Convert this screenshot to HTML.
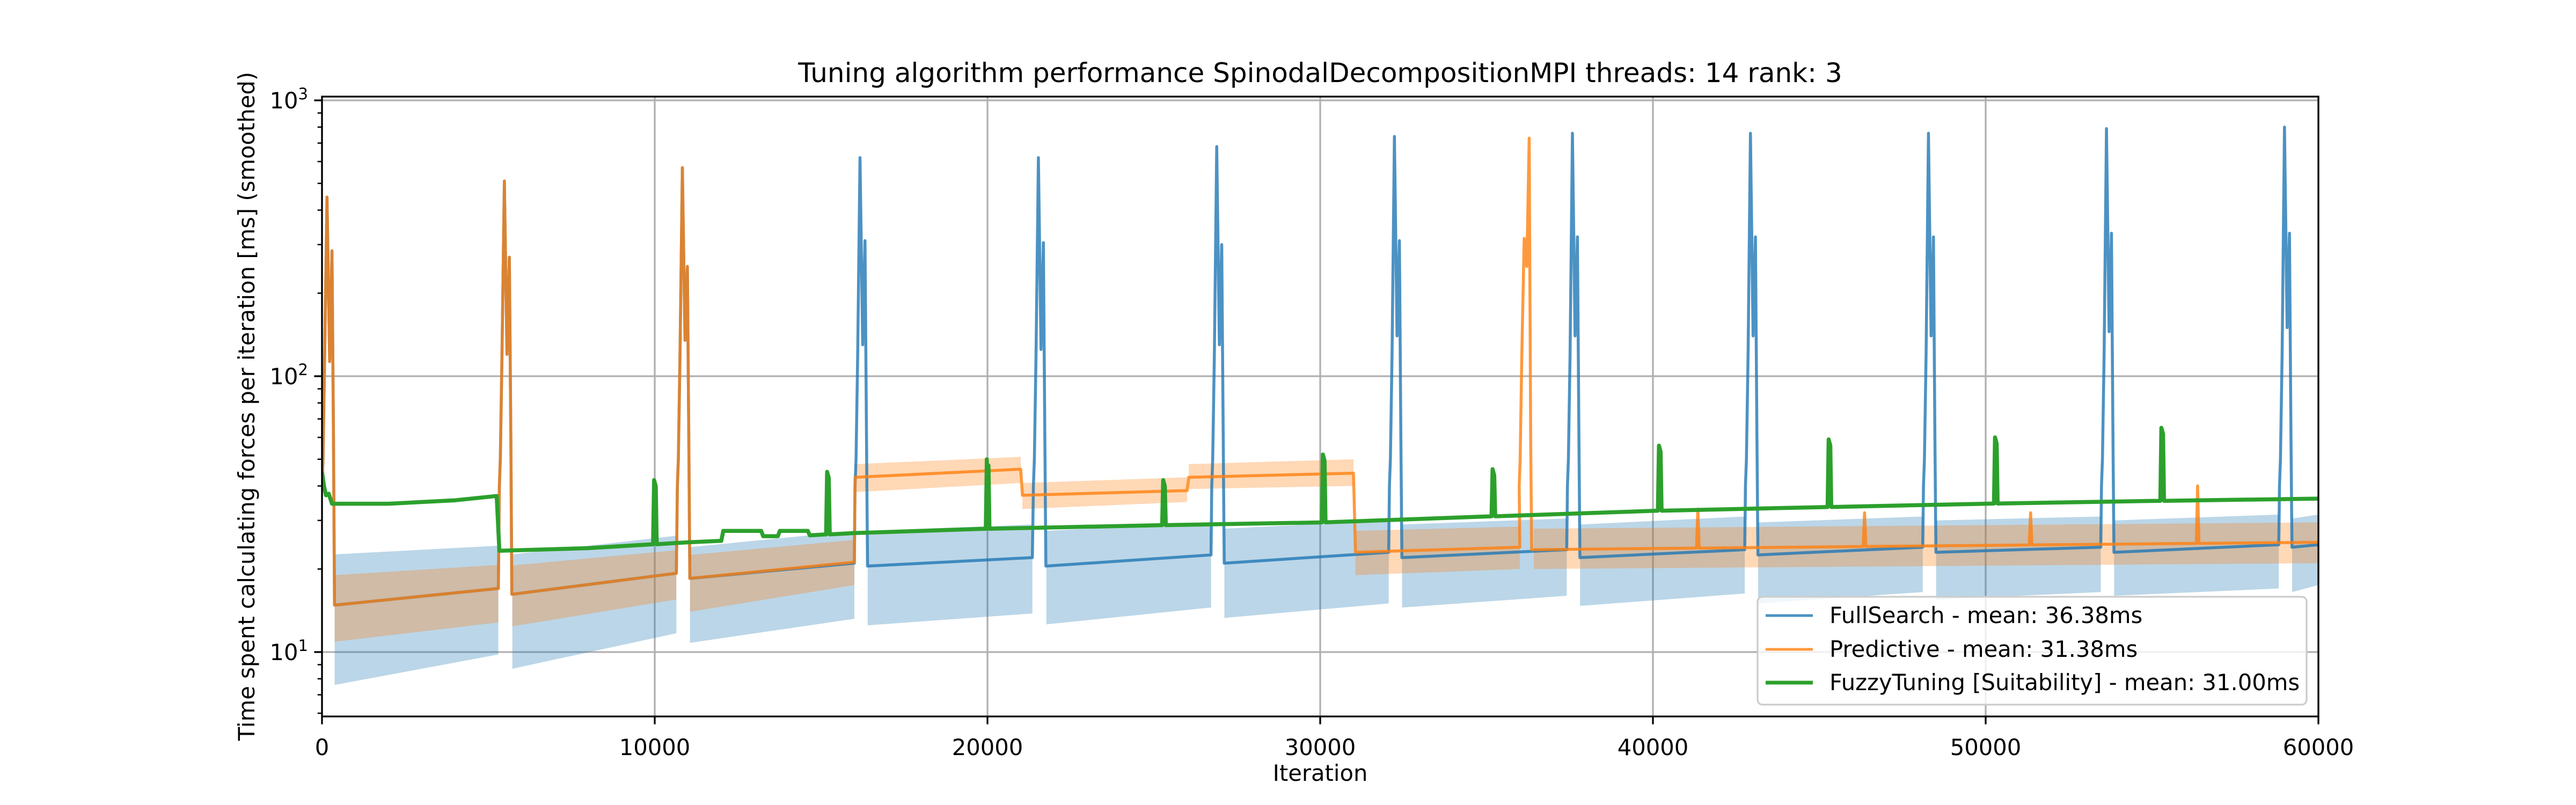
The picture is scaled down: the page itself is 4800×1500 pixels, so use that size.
<!DOCTYPE html>
<html><head><meta charset="utf-8">
<style>
html,body{margin:0;padding:0;background:#fff;}
svg{display:block;font-family:"DejaVu Sans","Liberation Sans",sans-serif;}
</style></head>
<body>
<svg id="chart" width="4800" height="1500" viewBox="0 0 4800 1500" xmlns="http://www.w3.org/2000/svg">
<rect width="4800" height="1500" fill="#fff"/>
<defs><clipPath id="plotclip"><rect x="600" y="180" width="3720" height="1155"/></clipPath></defs>
<g id="grid"></g>
<g id="series" clip-path="url(#plotclip)"></g>
<g id="axes"></g>
<text x="2460" y="153" font-size="50" text-anchor="middle">Tuning algorithm performance SpinodalDecompositionMPI threads: 14 rank: 3</text>
<text x="2460" y="1455" font-size="41.7" text-anchor="middle">Iteration</text>
<text transform="translate(474,757) rotate(-90)" font-size="41.7" text-anchor="middle">Time spent calculating forces per iteration [ms] (smoothed)</text>
<g>
<rect x="3275" y="1112" width="1023" height="201" rx="9" fill="#fff" fill-opacity="0.8" stroke="#cccccc" stroke-width="3.3"/>
<line x1="3290" y1="1147" x2="3378" y2="1147" stroke="#1f77b4" stroke-opacity="0.8" stroke-width="5"/>
<text x="3409" y="1161" font-size="41.7">FullSearch - mean: 36.38ms</text>
<line x1="3290" y1="1210" x2="3378" y2="1210" stroke="#ff7f0e" stroke-opacity="0.8" stroke-width="5"/>
<text x="3409" y="1224" font-size="41.7">Predictive - mean: 31.38ms</text>
<line x1="3290" y1="1272" x2="3378" y2="1272" stroke="#2ca02c" stroke-width="7"/>
<text x="3409" y="1286" font-size="41.7">FuzzyTuning [Suitability] - mean: 31.00ms</text>
</g>
</svg>
<script>
// ---- axis ticks ----
const xTicks = [0, 10000, 20000, 30000, 40000, 50000, 60000];
const yTickExps = [1, 2, 3];

// ---- FullSearch (blue) segments between tuning phases ----
const fsSegStart = [380, 5720, 11060, 16400, 21770, 27120, 32460, 37810, 43160, 48510, 53860, 59210];
const fsSegEnd   = [5300, 10650, 16000, 21350, 26720, 32060, 37410, 42760, 48110, 53460, 58810, 60000];
const fsMean0 = [14.8, 16.2, 18.5, 20.5, 20.5, 21.0, 22.0, 22.0, 22.5, 23.0, 23.0, 24.0];
const fsMean1 = [17.0, 19.3, 21.0, 22.0, 22.5, 23.0, 23.5, 23.5, 24.0, 24.0, 24.5, 24.5];
const fsLow0  = [7.6, 8.7, 10.8, 12.5, 12.6, 13.3, 14.5, 14.7, 15.0, 15.5, 16.0, 16.5];
const fsLow1  = [9.8, 11.7, 13.2, 13.8, 14.5, 15.0, 16.0, 16.3, 16.5, 16.5, 17.0, 17.5];
const fsHigh0 = [22.6, 22.6, 24.0, 27.5, 27.5, 28.0, 29.0, 29.0, 29.5, 30.0, 30.0, 30.5];
const fsHigh1 = [24.3, 26.4, 27.5, 29.0, 29.5, 30.0, 30.5, 31.0, 31.0, 31.0, 31.5, 31.5];
// tuning spikes (start iteration, first peak, dip, second peak)
const fsSpikeAt = [0, 5330, 10680, 16020, 21380, 26740, 32080, 37430, 42780, 48130, 53480, 58830];
const fsPeak1 = [446, 510, 570, 620, 620, 680, 740, 760, 760, 760, 790, 800];
const fsDip   = [113, 120, 135, 130, 125, 130, 140, 140, 140, 140, 145, 150];
const fsPeak2 = [285, 270, 250, 310, 305, 300, 310, 320, 320, 320, 330, 330];

// ---- Predictive (orange) ----
const prSegStart = [380, 5720, 11060, 16020, 21050, 26050, 31060, 36420];
const prSegEnd   = [5300, 10650, 16000, 21000, 26000, 31000, 36000, 60000];
const prMean0 = [14.8, 16.2, 18.5, 43.0, 37.0, 43.0, 23.0, 23.5];
const prMean1 = [17.0, 19.3, 21.2, 46.0, 38.5, 44.5, 24.0, 25.0];
const prLow0  = [10.9, 12.4, 14.0, 38.0, 33.0, 39.0, 19.0, 20.0];
const prLow1  = [12.8, 15.5, 17.5, 41.0, 35.0, 40.0, 20.0, 21.0];
const prHigh0 = [19.0, 20.6, 22.5, 48.0, 41.0, 48.0, 27.5, 28.0];
const prHigh1 = [20.7, 23.4, 25.5, 51.0, 43.0, 50.0, 28.5, 29.5];
const prSpikeAt = [0, 5330, 10680, 35980];
const prPeak1 = [446, 510, 570, 316];
const prDip   = [113, 120, 135, 250];
const prPeak2 = [285, 270, 250, 730];
const prBlipAt  = [41350, 46360, 51350, 56370];
const prBlipVal = [33, 32, 32, 40];

// ---- FuzzyTuning (green) ----
const ftIter = [0, 60, 120, 200, 300, 2000, 4000, 5250, 5330, 8000, 11000, 12000, 12060, 13200, 13260, 13700, 13760, 14600, 14660, 16000, 20000, 25000, 30000, 35000, 40000, 45000, 50000, 55000, 60000];
const ftVal  = [45, 40, 37, 37.5, 34.5, 34.5, 35.5, 36.8, 23.3, 23.8, 25.0, 25.3, 27.5, 27.5, 26.3, 26.3, 27.5, 27.5, 26.5, 27.0, 28.0, 28.8, 29.5, 31.0, 32.5, 33.5, 34.5, 35.3, 36.0];
const ftSpikeAt  = [10000, 15200, 20000, 25300, 30100, 35200, 40200, 45300, 50300, 55300];
const ftSpikeVal = [42, 45, 50, 42, 52, 46, 56, 59, 60, 65];

// ---- scales ----
const X0 = 600, X1 = 4320, Y10 = 1215, DEC = 514, YTOP = 180, YBOT = 1335;
function xs(i) { return X0 + (i / 60000) * (X1 - X0); }
function ys(v) { return Y10 - (Math.log10(v) - 1) * DEC; }
const NS = 'http://www.w3.org/2000/svg';
function mk(tag, attrs, parent) {
  const el = document.createElementNS(NS, tag);
  for (const k in attrs) el.setAttribute(k, attrs[k]);
  parent.appendChild(el);
  return el;
}
const grid = document.getElementById('grid');
const axes = document.getElementById('axes');
const series = document.getElementById('series');

xTicks.forEach(t => {
  const l = mk('line', {x1: xs(t), x2: xs(t), y1: YTOP, y2: YBOT, stroke: '#b0b0b0', 'stroke-width': 3.3}, grid);
  
  
});
yTickExps.forEach(e => {
  const l = mk('line', {x1: X0, x2: X1, y1: ys(Math.pow(10, e)), y2: ys(Math.pow(10, e)), stroke: '#b0b0b0', 'stroke-width': 3.3}, grid);
  
  
});

function spikePts(s, p1, dip, p2, endVal) {
  return [[s, 40], [s + 30, 50], [s + 80, 120], [s + 150, p1], [s + 230, dip], [s + 300, p2], [s + 345, 60], [s + 375, endVal]];
}
function pathFrom(pts) {
  return pts.map((p, k) => (k ? 'L' : 'M') + xs(p[0]).toFixed(1) + ',' + ys(p[1]).toFixed(1)).join('');
}
function bandPath(s, e, l0, l1, h0, h1) {
  return 'M' + xs(s) + ',' + ys(h0) + 'L' + xs(e) + ',' + ys(h1) + 'L' + xs(e) + ',' + ys(l1) + 'L' + xs(s) + ',' + ys(l0) + 'Z';
}

for (let k = 0; k < fsSegStart.length; k++) {
  const b = mk('path', {d: bandPath(fsSegStart[k], fsSegEnd[k], fsLow0[k], fsLow1[k], fsHigh0[k], fsHigh1[k]), fill: '#1f77b4', 'fill-opacity': 0.3}, series);
  
  
}
for (let k = 0; k < prSegStart.length; k++) {
  const b = mk('path', {d: bandPath(prSegStart[k], prSegEnd[k], prLow0[k], prLow1[k], prHigh0[k], prHigh1[k]), fill: '#ff7f0e', 'fill-opacity': 0.3}, series);
  
  
}

let fsPts = [];
for (let k = 0; k < fsSegStart.length; k++) {
  fsPts = fsPts.concat(spikePts(fsSpikeAt[k], fsPeak1[k], fsDip[k], fsPeak2[k], fsMean0[k]));
  fsPts.push([fsSegStart[k], fsMean0[k]], [fsSegEnd[k], fsMean1[k]]);
}
const fsLine = mk('path', {d: pathFrom(fsPts), fill: 'none', stroke: '#1f77b4', 'stroke-opacity': 0.8, 'stroke-width': 5.5, 'stroke-linejoin': 'round'}, series);



let prPts = [];
let si = 0;
for (let k = 0; k < prSegStart.length; k++) {
  if (si < prSpikeAt.length && prSpikeAt[si] < prSegStart[k]) {
    prPts = prPts.concat(spikePts(prSpikeAt[si], prPeak1[si], prDip[si], prPeak2[si], prMean0[k]));
    si++;
  }
  const segPts = [[prSegStart[k], prMean0[k]]];
  prBlipAt.forEach((b, j) => {
    if (b > prSegStart[k] && b < prSegEnd[k]) {
      const base = prMean0[k] + (prMean1[k] - prMean0[k]) * (b - prSegStart[k]) / (prSegEnd[k] - prSegStart[k]);
      segPts.push([b - 40, base], [b, prBlipVal[j]], [b + 40, base]);
    }
  });
  segPts.push([prSegEnd[k], prMean1[k]]);
  prPts = prPts.concat(segPts);
}
const prLine = mk('path', {d: pathFrom(prPts), fill: 'none', stroke: '#ff7f0e', 'stroke-opacity': 0.8, 'stroke-width': 5.5, 'stroke-linejoin': 'round'}, series);



function ftBase(i) {
  for (let k = 1; k < ftIter.length; k++) {
    if (i <= ftIter[k]) {
      const t = (i - ftIter[k - 1]) / (ftIter[k] - ftIter[k - 1]);
      return ftVal[k - 1] + t * (ftVal[k] - ftVal[k - 1]);
    }
  }
  return ftVal[ftVal.length - 1];
}
let ftPts = ftIter.map((it, k) => [it, ftVal[k]]);
ftSpikeAt.forEach((s, j) => {
  const b = ftBase(s);
  ftPts.push([s - 50, b], [s - 20, ftSpikeVal[j]], [s + 30, ftSpikeVal[j] * 0.95], [s + 60, b]);
});
ftPts.sort((a, b) => a[0] - b[0]);
const ftLine = mk('path', {d: pathFrom(ftPts), fill: 'none', stroke: '#2ca02c', 'stroke-width': 7.5, 'stroke-linejoin': 'round'}, series);



const spine = mk('rect', {x: X0, y: YTOP, width: X1 - X0, height: YBOT - YTOP, fill: 'none', stroke: '#000', 'stroke-width': 3.3}, axes);



xTicks.forEach(t => {
  const tk = mk('line', {x1: xs(t), x2: xs(t), y1: YBOT, y2: YBOT + 14.6, stroke: '#000', 'stroke-width': 3.3}, axes);
  
  
  const lb = mk('text', {x: xs(t), y: YBOT + 72, 'font-size': 41.7, 'text-anchor': 'middle'}, axes);
  lb.textContent = String(t);
  
  
});
for (let e = 0; e <= 3; e++) {
  for (let m = 1; m <= 9; m++) {
    const v = m * Math.pow(10, e);
    const yy = ys(v);
    if (yy < YTOP - 1 || yy > YBOT + 1) continue;
    const major = m === 1;
    const tk = mk('line', {x1: X0 - (major ? 14.6 : 8.3), x2: X0, y1: yy, y2: yy, stroke: '#000', 'stroke-width': major ? 3.3 : 2.5}, axes);
    
    
  }
}
yTickExps.forEach(e => {
  const lb = mk('text', {x: X0 - 26, y: ys(Math.pow(10, e)) + 15, 'font-size': 41.7, 'text-anchor': 'end'}, axes);
  
  
  const base = mk('tspan', {}, lb);
  base.textContent = '10';
  const sup = mk('tspan', {dy: -17, 'font-size': 29}, lb);
  sup.textContent = String(e);
});
</script>
</body></html>
